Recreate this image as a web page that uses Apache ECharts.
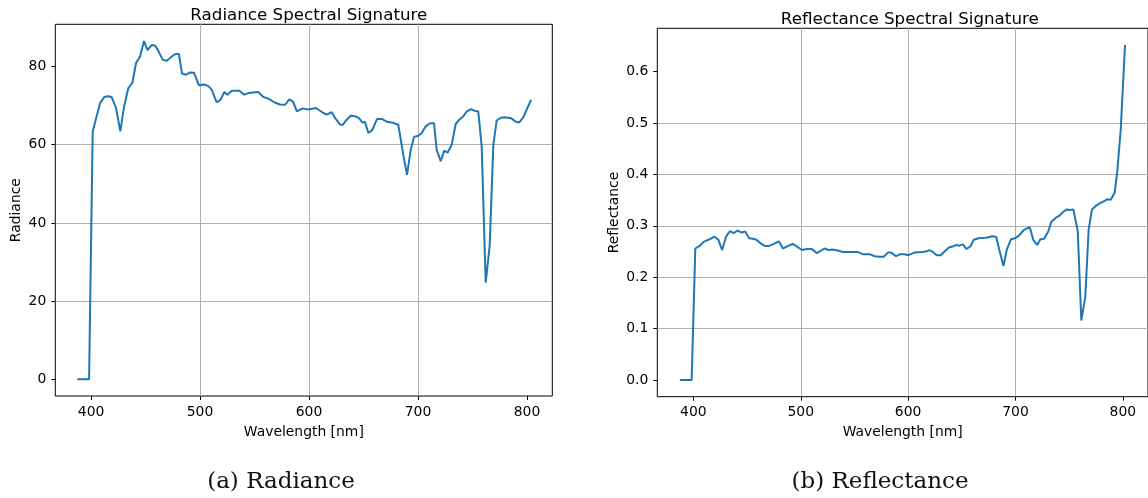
<!DOCTYPE html>
<html>
<head>
<meta charset="utf-8">
<script src="https://cdn.jsdelivr.net/npm/echarts@6/dist/echarts.min.js"></script>
<style>
	html,body{margin:0;padding:0;background:#fff;}
	#main{width:1148px;height:498px;}
</style>
</head>
<body>
<div id="main"></div>
<script>
// radiance curve
var rad_wave=[387.4,398.2,401.5,408.3,412.2,415.3,418.9,422.9,426.9,430.3,434.2,437.9,441.3,445.0,448.6,451.7,455.7,458.7,461.7,465.8,469.4,472.5,476.4,480.5,483.5,487.2,490.8,494.5,499.0,504.0,507.6,510.7,515.3,519.0,522.3,525.1,529.1,536.1,540.4,544.3,553.5,558.1,562.7,568.5,573.4,578.0,581.9,585.3,588.9,594.0,599.4,606.4,612.2,616.2,620.8,624.5,628.4,630.6,634.6,638.2,642.2,645.9,648.9,651.4,654.4,658.1,662.4,666.7,672.2,677.4,681.9,686.5,689.9,693.3,696.3,700.3,703.4,707.1,711.0,714.7,717.1,720.8,724.1,727.2,730.9,734.6,737.9,741.6,744.7,748.6,751.7,755.3,758.4,762.1,765.8,769.1,772.2,775.9,779.8,785.3,789.6,792.9,796.6,803.7];
var rad_value=[0,0,63.4,70.7,72.2,72.4,72.2,69.4,63.4,69.8,74.5,75.8,80.9,82.6,86.5,84.2,85.5,85.4,84.0,81.7,81.5,82.2,83.1,83.3,78.2,77.9,78.5,78.4,75.2,75.4,75.0,74.1,70.8,71.6,73.5,72.8,73.8,73.8,72.8,73.2,73.5,72.2,71.8,70.8,70.3,70.2,71.6,71.0,68.5,69.3,69.0,69.4,68.3,67.7,68.3,66.6,65.2,65.0,66.4,67.4,67.3,66.8,65.7,65.8,63.0,63.8,66.6,66.6,65.8,65.6,65.1,57.4,52.3,58.7,62.0,62.3,63.0,64.7,65.5,65.5,58.7,55.8,58.5,58.0,60.0,65.3,66.4,67.3,68.5,69.1,68.7,68.5,59.6,24.7,34.4,60.0,66.2,66.9,67.0,66.8,65.9,65.7,67.0,71.5];

// reflectance curve
var ref_wave=[387.4,398.4,401.8,405.8,409.5,415.0,419.7,423.3,426.8,430.4,434.1,437.5,441.2,444.9,448.3,451.9,455.6,458.7,462.7,466.4,470.4,475.0,479.6,483.3,487.3,492.7,501.1,505.7,510.4,515.0,522.1,525.8,529.5,534.4,539.6,545.8,553.4,557.4,564.2,568.8,573.5,577.2,581.1,584.2,588.8,592.8,596.5,600.2,605.8,613.4,616.5,619.6,622.6,626.6,630.3,634.9,638.0,642.7,645.1,647.3,651.0,654.3,658.0,661.1,665.7,671.8,674.9,678.0,682.0,684.8,688.8,691.9,695.8,699.5,703.2,707.3,710.3,713.4,716.5,720.2,723.2,726.6,730.3,733.4,737.1,741.0,744.2,747.8,750.3,753.9,758.0,761.3,765.0,768.1,771.2,774.9,778.6,782.6,785.7,788.7,792.4,794.9,798.0,802.0];
var ref_value=[0,0,0.256,0.261,0.269,0.274,0.279,0.273,0.253,0.279,0.290,0.286,0.291,0.287,0.289,0.276,0.275,0.273,0.266,0.261,0.261,0.265,0.270,0.256,0.260,0.265,0.253,0.255,0.255,0.247,0.256,0.253,0.254,0.252,0.249,0.249,0.249,0.245,0.245,0.241,0.240,0.240,0.248,0.248,0.241,0.245,0.245,0.243,0.248,0.249,0.250,0.253,0.250,0.243,0.243,0.252,0.258,0.261,0.263,0.261,0.264,0.255,0.260,0.273,0.276,0.277,0.278,0.280,0.279,0.254,0.222,0.254,0.274,0.276,0.281,0.291,0.295,0.297,0.273,0.263,0.274,0.275,0.288,0.308,0.315,0.320,0.327,0.332,0.331,0.332,0.289,0.116,0.162,0.292,0.332,0.339,0.344,0.348,0.352,0.351,0.365,0.409,0.487,0.652];

var x_ticks=[400,500,600,700,800];
var rad_y_ticks=[0,20,40,60,80];
var ref_y_ticks=[0,0.1,0.2,0.3,0.4,0.5,0.6];

var FONT='DejaVu Sans';

function data_pairing(xs,ys){
	var out=[];
	for(var i=0;i<xs.length;i++)
		out.push([xs[i],ys[i]]);
	return out;
}

function make_x(idx,min,max){
	return {
		type:'value',gridIndex:idx,min:min,max:max,splitNumber:5,
		name:'Wavelength [nm]',nameLocation:'middle',nameGap:29,
		nameTextStyle:{fontFamily:FONT,fontSize:13.9,color:'#000'},
		axisLine:{show:false,onZero:false},
		axisTick:{show:true,inside:false,length:4,customValues:x_ticks,lineStyle:{color:'#000',width:1}},
		axisLabel:{customValues:x_ticks,margin:9,fontFamily:FONT,fontSize:13.9,color:'#000'},
		splitLine:{show:true,showMinLine:false,showMaxLine:false,lineStyle:{color:'#b0b0b0',width:1}}
	};
}

function make_y(idx,min,max,ticks,name,gap,fmt){
	return {
		type:'value',gridIndex:idx,min:min,max:max,splitNumber:ticks.length,
		name:name,nameLocation:'middle',nameGap:gap,
		nameTextStyle:{fontFamily:FONT,fontSize:13.9,color:'#000'},
		axisLine:{show:false,onZero:false},
		axisTick:{show:true,inside:false,length:4,customValues:ticks,lineStyle:{color:'#000',width:1}},
		axisLabel:{customValues:ticks,margin:9,fontFamily:FONT,fontSize:13.9,color:'#000',formatter:fmt},
		splitLine:{show:true,showMinLine:false,showMaxLine:false,lineStyle:{color:'#b0b0b0',width:1}}
	};
}

var myChart=echarts.init(document.getElementById('main'),null,{renderer:'canvas'});
var option={
	animation:false,
	backgroundColor:'#fff',
	title:[
		{text:'Radiance Spectral Signature',left:303.8,top:2,textAlign:'center',
			textStyle:{fontFamily:FONT,fontSize:16.7,fontWeight:'normal',color:'#000'}},
		{text:'Reflectance Spectral Signature',left:904.8,top:6,textAlign:'center',
			textStyle:{fontFamily:FONT,fontSize:16.7,fontWeight:'normal',color:'#000'}}
	],
	grid:[
		{left:55.3,top:24.3,width:497,height:371.7,show:true,borderColor:'#000',borderWidth:1,backgroundColor:'transparent'},
		{left:657.3,top:28.3,width:495.3,height:368.4,show:true,borderColor:'#000',borderWidth:1,backgroundColor:'transparent'}
	],
	xAxis:[make_x(0,367.2,823.2),make_x(1,366.4,823.4)],
	yAxis:[
		make_y(0,-4.27,90.8,rad_y_ticks,'Radiance',32,function(v){return String(v);}),
		make_y(1,-0.0323,0.6844,ref_y_ticks,'Reflectance',36,function(v){return v.toFixed(1);})
	],
	series:[
		{type:'line',xAxisIndex:0,yAxisIndex:0,showSymbol:false,
			lineStyle:{color:'#1f77b4',width:2},data:data_pairing(rad_wave,rad_value)},
		{type:'line',xAxisIndex:1,yAxisIndex:1,showSymbol:false,
			lineStyle:{color:'#1f77b4',width:2},data:data_pairing(ref_wave,ref_value)}
	],
	graphic:[
		{type:'text',x:281,y:482,style:{text:'(a) Radiance',font:'23px "DejaVu Serif"',fill:'#111',align:'center',verticalAlign:'middle'}},
		{type:'text',x:880,y:482,style:{text:'(b) Reflectance',font:'23px "DejaVu Serif"',fill:'#111',align:'center',verticalAlign:'middle'}}
	]
};
myChart.setOption(option);
</script>
</body>
</html>
